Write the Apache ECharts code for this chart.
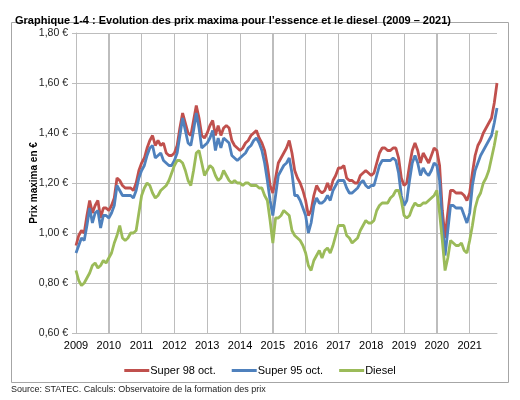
<!DOCTYPE html>
<html>
<head>
<meta charset="utf-8">
<script src="https://cdn.jsdelivr.net/npm/echarts@6/dist/echarts.min.js"></script>
<style>
  html, body { margin: 0; padding: 0; background: #fff; }
  #chart { width: 520px; height: 400px; }
</style>
</head>
<body>
<div id="chart"></div>
<script>
// years shown on the x axis, data is monthly from Jan 2009 to Nov 2021
const years = ['2009', '2010', '2011', '2012', '2013', '2014', '2015',
  '2016', '2017', '2018', '2019', '2020', '2021'];

// monthly maximum prices in EUR per litre
const super98 = [
  0.95, 0.99, 1.01, 1.00, 1.07, 1.13, 1.08, 1.11, 1.13, 1.06, 1.10, 1.10,
  1.09, 1.11, 1.14, 1.22, 1.21, 1.19, 1.18, 1.18, 1.18, 1.17, 1.20, 1.25,
  1.28, 1.30, 1.34, 1.37, 1.39, 1.35, 1.37, 1.35, 1.36, 1.32, 1.31, 1.31,
  1.32, 1.35, 1.42, 1.48, 1.44, 1.40, 1.39, 1.45, 1.51, 1.46, 1.39, 1.38,
  1.40, 1.43, 1.45, 1.39, 1.43, 1.39, 1.42, 1.43, 1.42, 1.37, 1.35, 1.34,
  1.33, 1.34, 1.36, 1.37, 1.39, 1.40, 1.41, 1.38, 1.36, 1.33, 1.27, 1.19,
  1.16, 1.22, 1.28, 1.30, 1.32, 1.34, 1.37, 1.32, 1.25, 1.22, 1.20, 1.17,
  1.13, 1.07, 1.09, 1.15, 1.19, 1.17, 1.16, 1.17, 1.20, 1.17, 1.21, 1.23,
  1.26, 1.26, 1.27, 1.22, 1.21, 1.21, 1.20, 1.20, 1.23, 1.24, 1.25, 1.24,
  1.23, 1.24, 1.28, 1.32, 1.34, 1.34, 1.33, 1.33, 1.34, 1.34, 1.30, 1.22,
  1.19, 1.20, 1.27, 1.33, 1.36, 1.33, 1.28, 1.32, 1.30, 1.28, 1.31, 1.34,
  1.33, 1.27, 1.09, 0.98, 1.08, 1.17, 1.17, 1.16, 1.16, 1.16, 1.15, 1.13,
  1.16, 1.24, 1.31, 1.35, 1.37, 1.40, 1.42, 1.44, 1.46, 1.52, 1.60
];
const super95 = [
  0.92, 0.95, 0.98, 0.97, 1.03, 1.10, 1.04, 1.08, 1.09, 1.02, 1.07, 1.07,
  1.06, 1.08, 1.11, 1.19, 1.17, 1.15, 1.15, 1.15, 1.15, 1.14, 1.17, 1.22,
  1.25, 1.27, 1.31, 1.34, 1.35, 1.30, 1.31, 1.32, 1.29, 1.28, 1.27, 1.27,
  1.29, 1.32, 1.39, 1.46, 1.41, 1.36, 1.35, 1.41, 1.48, 1.42, 1.34, 1.35,
  1.36, 1.38, 1.41, 1.33, 1.38, 1.34, 1.38, 1.37, 1.36, 1.31, 1.30, 1.29,
  1.30, 1.31, 1.32, 1.34, 1.35, 1.37, 1.38, 1.36, 1.33, 1.28, 1.21, 1.13,
  1.07, 1.15, 1.23, 1.25, 1.27, 1.28, 1.30, 1.24, 1.15, 1.15, 1.13, 1.10,
  1.07, 1.00, 1.04, 1.11, 1.14, 1.12, 1.12, 1.13, 1.15, 1.13, 1.17, 1.19,
  1.21, 1.21, 1.21, 1.18, 1.16, 1.16, 1.17, 1.18, 1.20, 1.21, 1.19, 1.18,
  1.19, 1.19, 1.23, 1.27, 1.29, 1.29, 1.29, 1.29, 1.30, 1.29, 1.24, 1.15,
  1.11, 1.13, 1.21, 1.28, 1.31, 1.28, 1.23, 1.26, 1.24, 1.23, 1.25, 1.28,
  1.27, 1.21, 1.04, 0.91, 1.01, 1.11, 1.11, 1.10, 1.10, 1.10, 1.07, 1.04,
  1.08, 1.19, 1.25, 1.28, 1.31, 1.33, 1.35, 1.37, 1.39, 1.44, 1.50
];
const diesel = [
  0.85, 0.81, 0.79, 0.80, 0.82, 0.84, 0.87, 0.88, 0.86, 0.87, 0.89, 0.88,
  0.90, 0.92, 0.96, 0.99, 1.03, 0.98, 0.97, 0.98, 1.00, 1.00, 1.01, 1.08,
  1.15, 1.18, 1.20, 1.19, 1.16, 1.14, 1.15, 1.17, 1.18, 1.19, 1.21, 1.24,
  1.27, 1.29, 1.29, 1.28, 1.25, 1.21, 1.19, 1.25, 1.32, 1.33, 1.28, 1.23,
  1.25, 1.27, 1.26, 1.23, 1.21, 1.22, 1.25, 1.23, 1.21, 1.20, 1.21, 1.20,
  1.20, 1.19, 1.20, 1.20, 1.19, 1.19, 1.19, 1.18, 1.18, 1.15, 1.13, 1.05,
  0.96, 1.06, 1.06, 1.07, 1.09, 1.08, 1.07, 1.01, 0.99, 0.98, 0.97, 0.95,
  0.92, 0.87, 0.85, 0.89, 0.91, 0.93, 0.90, 0.93, 0.94, 0.92, 0.95, 0.99,
  1.03, 1.03, 1.03, 0.99, 0.98, 0.96, 0.97, 0.98, 1.01, 1.03, 1.05, 1.04,
  1.04, 1.05, 1.09, 1.11, 1.12, 1.12, 1.12, 1.14, 1.15, 1.17, 1.17, 1.13,
  1.07, 1.06, 1.07, 1.10, 1.12, 1.11, 1.11, 1.12, 1.12, 1.13, 1.14, 1.15,
  1.17, 1.08, 0.97, 0.85, 0.90, 0.97, 0.96, 0.95, 0.95, 0.96, 0.93, 0.92,
  0.97, 1.03, 1.10, 1.14, 1.16, 1.20, 1.22, 1.25, 1.30, 1.35, 1.41
];
const yMin = 0.6;
const yMax = 1.8;

// x = months since January 2009
function toPoints(arr) {
  return arr.map(function (v, i) { return [i, v]; });
}

const chart = echarts.init(document.getElementById('chart'));
const font = '"Liberation Sans", Arial, sans-serif';
const gridColor = '#bdbdbd';
const colors = { s98: '#C0504D', s95: '#4F81BD', diesel: '#9BBB59' };

const baseGraphic = [
  {
    type: 'rect',
    shape: { x: 11.5, y: 22.5, width: 497, height: 360 },
    style: { fill: 'none', stroke: '#a6a6a6', lineWidth: 1 },
    silent: true
  },
  {
    type: 'text',
    left: 11,
    top: 385,
    style: {
      text: 'Source: STATEC. Calculs: Observatoire de la formation des prix',
      fontFamily: font,
      fontSize: 9,
      fill: '#222'
    }
  }
];

const option = {
  backgroundColor: '#fff',
  animation: false,
  textStyle: { fontFamily: font },
  title: {
    left: 10,
    top: 7,
    text: '{b|Graphique 1-4 : Evolution des prix maxima pour l\u2019essence et le diesel} {n|(2009 \u2013 2021)}',
    textStyle: {
      rich: {
        b: { fontFamily: font, fontSize: 11, fontWeight: 'bold', color: '#000' },
        n: { fontFamily: font, fontSize: 11, color: '#000' }
      }
    }
  },
  graphic: baseGraphic,
  legend: {
    bottom: 19,
    left: 'center',
    icon: 'rect',
    itemWidth: 25,
    itemHeight: 3,
    itemGap: 16,
    textStyle: { fontFamily: font, fontSize: 11, color: '#000', padding: [0, 0, 0, -4] },
    data: ['Super 98 oct.', 'Super 95 oct.', 'Diesel']
  },
  grid: {
    left: 76,
    right: 23,
    top: 33,
    bottom: 67,
    containLabel: false
  },
  xAxis: {
    type: 'value',
    min: 0,
    max: super98.length - 1,
    interval: 12,
    axisLine: { show: true, lineStyle: { color: gridColor, width: 1 } },
    axisTick: { show: false },
    axisLabel: {
      margin: 7,
      fontSize: 11,
      color: '#000',
      showMaxLabel: false,
      formatter: function (v) {
        return v % 12 === 0 ? years[v / 12] : '';
      }
    },
    splitLine: {
      show: true,
      showMaxLine: false,
      lineStyle: { color: gridColor, width: 1 }
    }
  },
  yAxis: {
    type: 'value',
    min: yMin,
    max: yMax,
    interval: 0.2,
    name: 'Prix maxima en \u20ac',
    nameLocation: 'middle',
    nameGap: 37,
    nameMoveOverlap: false,
    nameTextStyle: { fontFamily: font, fontSize: 10, fontWeight: 'bold', color: '#000' },
    axisLine: { show: true, lineStyle: { color: gridColor, width: 1 } },
    axisTick: { show: true, length: 4, lineStyle: { color: gridColor } },
    axisLabel: {
      margin: 8,
      fontSize: 10.5,
      color: '#222',
      formatter: function (v) {
        return v.toFixed(2).replace('.', ',') + ' \u20ac';
      }
    },
    splitLine: { show: true, lineStyle: { color: gridColor, width: 1 } }
  },
  series: [
    {
      name: 'Super 98 oct.',
      type: 'line',
      data: toPoints(super98),
      showSymbol: false,
      z: 5,
      itemStyle: { color: colors.s98 },
      lineStyle: { width: 2.8, color: colors.s98 }
    },
    {
      name: 'Super 95 oct.',
      type: 'line',
      data: toPoints(super95),
      showSymbol: false,
      z: 5,
      itemStyle: { color: colors.s95 },
      lineStyle: { width: 2.8, color: colors.s95 }
    },
    {
      name: 'Diesel',
      type: 'line',
      data: toPoints(diesel),
      showSymbol: false,
      z: 5,
      itemStyle: { color: colors.diesel },
      lineStyle: { width: 2.8, color: colors.diesel }
    }
  ]
};

chart.setOption(option);

// vertical year lines placed through the x axis scale, under the price lines
const yearLines = years.map(function (y, i) {
  const top = chart.convertToPixel({ gridIndex: 0 }, [i * 12, yMax]);
  const bottom = chart.convertToPixel({ gridIndex: 0 }, [i * 12, yMin]);
  return {
    type: 'rect',
    silent: true,
    z: 0,
    shape: { x: Math.floor(top[0]), y: top[1], width: 1, height: bottom[1] - top[1] },
    style: { fill: gridColor }
  };
});
chart.setOption({ graphic: baseGraphic.concat(yearLines) });
</script>
</body>
</html>
